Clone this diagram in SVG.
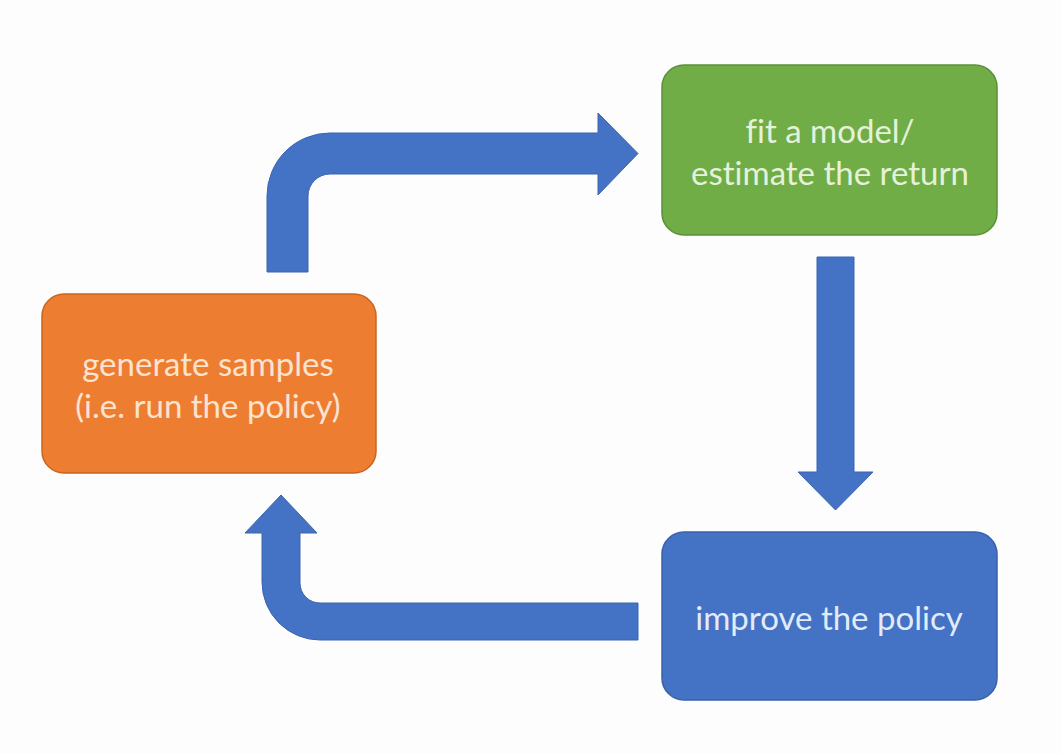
<svg xmlns="http://www.w3.org/2000/svg" width="1062" height="754" viewBox="0 0 1062 754">
<defs>
<style>
.box{stroke-width:1.5}
.lbl{font-family:Lato,"Open Sans","Liberation Sans",sans-serif;font-size:33px;text-anchor:middle;font-variant-ligatures:none;font-feature-settings:"liga" 0}
.arrow{fill:#4472C4;stroke:#3A64B0;stroke-width:1}
</style>
</defs>
<rect width="1062" height="754" fill="#FDFDFD"/>
<g id="connectors">
<path class="arrow" d="M267,272 L267,196 A63,63 0 0 1 330,133 L598,133 L598,113 L638,153.5 L598,195 L598,174 L330,174 A22,22 0 0 0 308,196 L308,272 Z"/>
<path class="arrow" d="M817,257 L854,257 L854,472 L873,472 L835.5,510 L798,472 L817,472 Z"/>
<path class="arrow" d="M638,603 L320,603 A20,20 0 0 1 300,583 L300,533 L317,533 L281,495 L245,533 L262,533 L262,582 A58,58 0 0 0 320,640 L638,640 Z"/>
</g>
<g id="node-generate">
<rect class="box" x="42" y="294" width="334" height="179" rx="22" fill="#ED7D31" stroke="#C8661F"/>
<text class="lbl" x="208" y="376" fill="#FBE3D2">generate samples</text>
<text class="lbl" x="208" y="418" fill="#FBE3D2">(i.e. run the policy)</text>
</g>
<g id="node-fit">
<rect class="box" x="662" y="65" width="335" height="170" rx="22" fill="#70AD47" stroke="#5A9138"/>
<text class="lbl" x="830" y="143" fill="#E5F2DA">fit a model/</text>
<text class="lbl" x="830" y="185" fill="#E5F2DA">estimate the return</text>
</g>
<g id="node-improve">
<rect class="box" x="662" y="532" width="335" height="168" rx="22" fill="#4472C4" stroke="#3A62AA"/>
<text class="lbl" x="829" y="630" fill="#E2EBF8">improve the policy</text>
</g>
</svg>
